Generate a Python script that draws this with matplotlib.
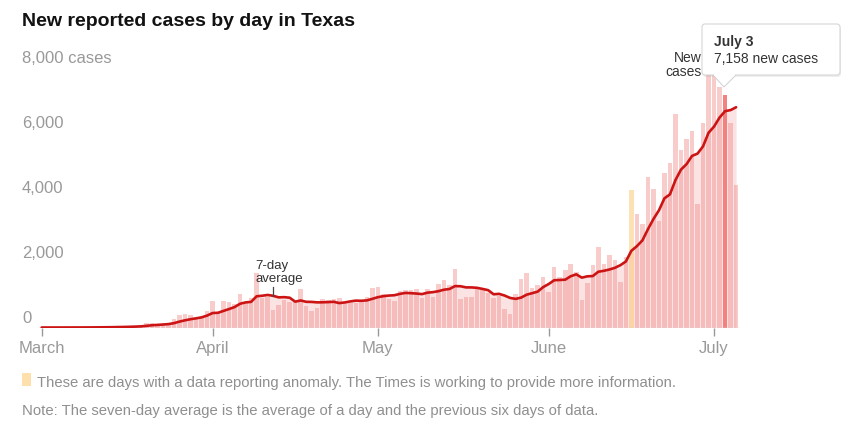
import numpy as np
import pandas as pd
import matplotlib
matplotlib.use("Agg")
import matplotlib.pyplot as plt
from matplotlib import font_manager
from matplotlib.patches import FancyBboxPatch, Polygon, Rectangle
import matplotlib.transforms as mtransforms

# daily new cases in Texas, March 1 - July 5
start_date = "2020-03-01"
cases = [
    0, 0, 0, 1, 1, 2, 3, 3, 5, 8,
    10, 12, 15, 20, 25, 30, 40, 50, 60,
    130, 150, 100, 110, 130, 255, 395, 405, 385, 290, 320, 510,
    805, 460, 810, 780, 720, 1030, 800, 920, 1670, 920,
    950, 540, 690, 845, 800, 820, 1175, 660, 520, 590,
    865, 845, 880, 900, 800, 740, 760, 830, 930, 1215,
    1255, 1020, 870, 830, 1120, 1140, 1160, 1170, 900, 1185,
    940, 1330, 1455, 1318, 1793, 864, 940, 933, 1241, 1220,
    1056, 902, 954, 575, 421, 1037, 1499, 1684, 1222, 1293,
    1550, 1078, 1858, 1550, 1755, 1960, 1704, 831, 1360, 1920,
    2480, 1960, 2230, 2070, 1400, 2160, 4220, 3480, 3200, 4630,
    4265, 3285, 4750, 5065, 6565, 5452, 5790, 6046, 3788, 6303,
    8000, 7900, 7400, 7158, 6280, 4400,
]
anomaly_days = ["2020-06-16"]
highlight_day = "2020-07-03"
month_labels = ["March", "April", "May", "June", "July"]
y_ticks = [0, 2000, 4000, 6000, 8000]
y_labels = ["0", "2,000", "4,000", "6,000", "8,000 cases"]

names = {f.name for f in font_manager.fontManager.ttflist}
main_font = "Liberation Sans" if "Liberation Sans" in names else "DejaVu Sans"
narrow_font = "Liberation Sans Narrow" if "Liberation Sans Narrow" in names else main_font
note_size = 12.5 if narrow_font != main_font else 10.7
plt.rcParams["font.family"] = [main_font, "DejaVu Sans"]

dates = pd.date_range(start_date, periods=len(cases))
s = pd.Series(cases, index=dates, dtype=float)
avg = s.rolling(7, min_periods=1).mean()

W, H = 845, 426
fig = plt.figure(figsize=(W / 100, H / 100), dpi=100)

# axes placed in pixel terms: x from 38 to 740, baseline at y=327.5, top at y=60
ax = fig.add_axes([38 / W, (H - 327.5) / H, (740 - 38) / W, (327.5 - 60) / H])
ymax = (327.5 - 60) / 0.0325
ax.set_ylim(0, ymax)
ax.set_xlim(dates[0] - pd.Timedelta(hours=16), dates[-1] + pd.Timedelta(hours=17))

anom = dates.isin(pd.to_datetime(anomaly_days))
hi = dates == pd.Timestamp(highlight_day)
normal = ~(anom | hi)

ax.fill_between(dates, 0, avg.values, color="#fbe3e3", lw=0, zorder=1)
ax.bar(dates[normal], s[normal], width=0.82, color="#f08080", alpha=0.4, lw=0, zorder=2)
ax.bar(dates[anom], s[anom], width=0.82, color="#fbc46a", alpha=0.5, lw=0, zorder=2)
ax.bar(dates[hi], s[hi], width=0.82, color="#f2827f", lw=0, zorder=2)
ax.plot(dates, avg.values, color="#cc1414", lw=1.9, zorder=4, solid_capstyle="round")

ax.axhline(0, color="#dcdcdc", lw=1, zorder=3)
for sp in ax.spines.values():
    sp.set_visible(False)
ax.set_yticks([])
month_starts = [d for d in dates if d.day == 1]
ax.set_xticks(month_starts)
ax.set_xticklabels(month_labels)
ax.tick_params(axis="x", length=6, color="#999999", labelcolor="#999999",
               labelsize=12, pad=4, width=1)

# y labels sit above their level, flush left
trans = mtransforms.blended_transform_factory(fig.transFigure, ax.transData)
trans = mtransforms.offset_copy(trans, fig=fig, y=9, units="dots")
for v, lab in zip(y_ticks, y_labels):
    fig.text(22 / W, v, lab, transform=trans, ha="left", va="center",
             fontsize=12, color="#999999")

# 7-day average callout
d42 = dates[42]
ax.plot([d42, d42], [avg[42], 1255], color="#444444", lw=0.9, zorder=5)
ax.text(dates[39] - pd.Timedelta(hours=6), 1300, "7-day\naverage", fontsize=9.5,
        color="#333333", ha="left", va="bottom", linespacing=1.15, zorder=5)

def P(x, y):
    return (x / 100, (H - y) / 100)

inch = fig.dpi_scale_trans
fig.text(*P(702, 58), "New", transform=inch, ha="right", va="center",
         fontsize=10, color="#333333")
fig.text(*P(702, 72), "cases", transform=inch, ha="right", va="center",
         fontsize=10, color="#333333")

# tooltip
x0, y0, x1, y1 = 702, 24, 840, 75
shadow = FancyBboxPatch(P(x0 + 1, y1 + 2), (x1 - x0) / 100, (y1 - y0) / 100,
                        boxstyle="round,pad=0,rounding_size=0.03",
                        transform=inch, fc="#00000010", ec="none", zorder=9)
box = FancyBboxPatch(P(x0, y1), (x1 - x0) / 100, (y1 - y0) / 100,
                     boxstyle="round,pad=0,rounding_size=0.03",
                     transform=inch, fc="white", ec="#d0d0d0", lw=0.7, zorder=10)
fig.add_artist(shadow)
fig.add_artist(box)
tri = Polygon([P(713, y1), P(724, 87), P(736, y1)], closed=False, transform=inch,
              fc="white", ec="#d0d0d0", lw=0.7, zorder=11)
fig.add_artist(tri)
fig.add_artist(Rectangle(P(713.8, y1 + 0.8), 21.4 / 100, 1.6 / 100, transform=inch,
                         fc="white", ec="none", zorder=12))
fig.text(*P(714, 42), "July 3", transform=inch, fontsize=10, fontweight="bold",
         color="#333333", va="center", ha="left", zorder=13)
fig.text(*P(714, 59), "7,158 new cases", transform=inch, fontsize=10,
         color="#333333", va="center", ha="left", zorder=13)

# title and notes
fig.text(*P(22, 22), "New reported cases by day in Texas", transform=inch,
         fontsize=14, fontweight="bold", color="#121212", va="center", ha="left")
fig.add_artist(Rectangle(P(22, 386), 9 / 100, 13 / 100, transform=inch,
                         fc="#fde0ab", ec="none"))
fig.text(*P(37, 383), "These are days with a data reporting anomaly. The Times is working to provide more information.",
         transform=inch, fontsize=note_size, family=narrow_font, color="#8f8f8f",
         va="center", ha="left")
fig.text(*P(22, 411), "Note: The seven-day average is the average of a day and the previous six days of data.",
         transform=inch, fontsize=note_size, family=narrow_font, color="#8f8f8f",
         va="center", ha="left")

fig.savefig("out.png", dpi=100)
